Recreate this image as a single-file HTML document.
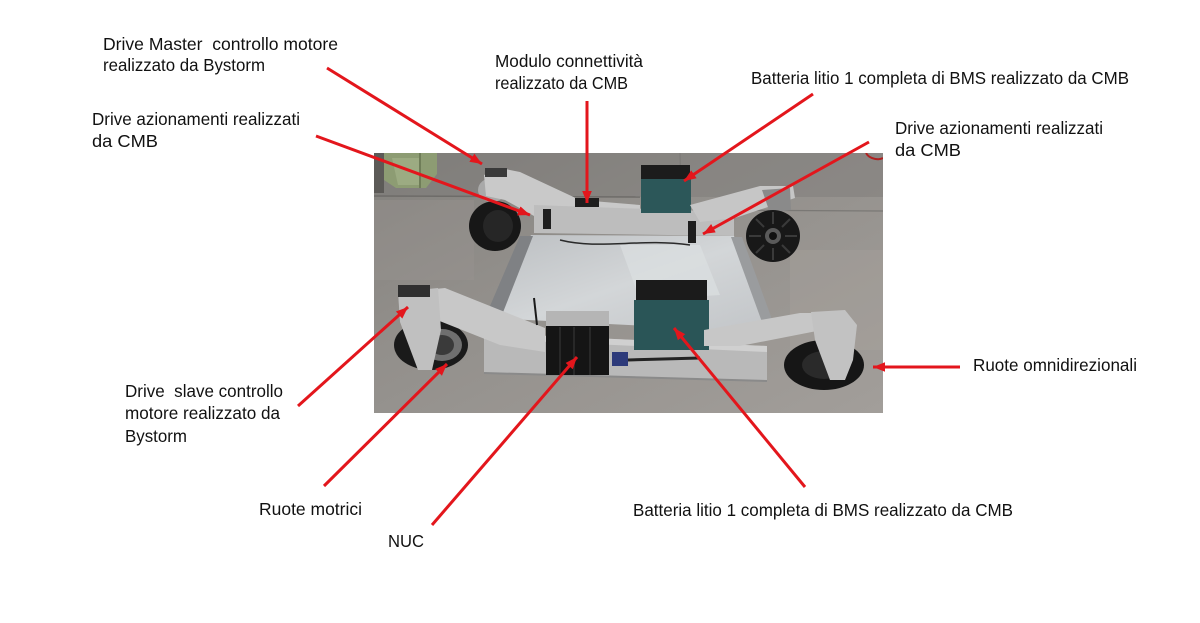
<!DOCTYPE html>
<html>
<head>
<meta charset="utf-8">
<style>
  html, body { margin:0; padding:0; background:#ffffff; }
  body { width:1200px; height:623px; overflow:hidden; }
  svg { display:block; }
  text { font-family: "Liberation Sans", "DejaVu Sans", sans-serif; font-size:17.5px; fill:#111; }
</style>
</head>
<body>
<svg width="1200" height="623" viewBox="0 0 1200 623" xmlns="http://www.w3.org/2000/svg">
  <defs>
    <clipPath id="photo"><rect x="374" y="153" width="509" height="260"/></clipPath>
    <linearGradient id="floor" x1="0" y1="0" x2="1" y2="1">
      <stop offset="0" stop-color="#82807c"/>
      <stop offset="0.35" stop-color="#918e8a"/>
      <stop offset="1" stop-color="#a29e9a"/>
    </linearGradient>
    <linearGradient id="plate" x1="0" y1="0" x2="1" y2="1">
      <stop offset="0" stop-color="#bcbfc2"/>
      <stop offset="0.5" stop-color="#d3d6d8"/>
      <stop offset="1" stop-color="#c2c5c8"/>
    </linearGradient>
    <marker id="ah" viewBox="0 0 10 10" refX="10" refY="5" markerWidth="4" markerHeight="4" orient="auto">
      <path d="M0,1 L10,5 L0,9 z" fill="#e3161c"/>
    </marker>
  </defs>

  <!-- PHOTO -->
  <g clip-path="url(#photo)">
    <rect x="374" y="153" width="509" height="260" fill="url(#floor)"/>
    <rect x="374" y="153" width="509" height="44" fill="#7c7a77" opacity="0.45"/>
    <line x1="374" y1="196" x2="640" y2="197" stroke="#6e6c69" stroke-width="1.5"/>
    <line x1="700" y1="210" x2="883" y2="211" stroke="#7a7875" stroke-width="1.2"/>
    <line x1="680" y1="153" x2="681" y2="200" stroke="#7a7875" stroke-width="1"/>
    <rect x="374" y="200" width="100" height="80" fill="#9a9692" opacity="0.35"/>
    <rect x="790" y="250" width="93" height="100" fill="#a8a49f" opacity="0.35"/>
    <rect x="374" y="153" width="10" height="40" fill="#5c5a57"/>
    <!-- green machine -->
    <polygon points="384,153 437,153 437,174 426,188 396,188 384,180" fill="#8d9c73"/>
    <polygon points="392,158 420,158 420,185 398,185" fill="#9cab82"/>
    <line x1="420" y1="153" x2="420" y2="188" stroke="#6f7d58" stroke-width="2"/>

    <!-- back left wheel -->
    <ellipse cx="495" cy="226" rx="26" ry="25" fill="#171717"/>
    <ellipse cx="498" cy="226" rx="15" ry="16" fill="#262626"/>
    <!-- back left motor & arm -->
    <ellipse cx="492" cy="190" rx="14" ry="12" fill="#a9a9a9"/>
    <polygon points="484,175 500,168 520,172 580,200 640,205 640,232 540,233 534,216 505,200 486,196" fill="#c9c9c9"/>
    <polygon points="534,205 734,212 734,236 534,233" fill="#bdbdbd"/>
    <rect x="485" y="168" width="22" height="9" fill="#3a3a3a"/>
    <rect x="575" y="198" width="24" height="9" fill="#1e1e1e"/>
    <rect x="543" y="209" width="8" height="20" fill="#1f1f1f"/>

    <!-- platform -->
    <polygon points="531,235 734,236 768,332 489,318" fill="url(#plate)"/>
    <polygon points="520,236 533,236 500,320 484,320" fill="#7f8184"/>
    <polygon points="731,237 742,237 777,333 766,333" fill="#9a9c9e"/>
    <polygon points="620,245 700,245 720,295 640,300" fill="#dcdfe1" opacity="0.7"/>
    <rect x="688" y="221" width="8" height="22" fill="#1e1e1e"/>
    <path d="M560,240 C600,250 640,238 690,245" stroke="#2a2a2a" stroke-width="1.5" fill="none"/>

    <!-- back battery -->
    <rect x="641" y="165" width="49" height="15" fill="#1c1c1c"/>
    <rect x="641" y="179" width="50" height="34" fill="#2c5759"/>

    <!-- back right arm, plate, omni wheel -->
    <polygon points="690,205 760,186 793,186 795,198 735,218 700,222" fill="#c6c6c6"/>
    <polygon points="762,190 790,188 791,210 770,213" fill="#8a8a8a"/>
    <ellipse cx="773" cy="236" rx="27" ry="26" fill="#181818"/>
    <g stroke="#3a3a3a" stroke-width="2">
      <line x1="773" y1="212" x2="773" y2="224"/>
      <line x1="773" y1="248" x2="773" y2="260"/>
      <line x1="749" y1="236" x2="761" y2="236"/>
      <line x1="785" y1="236" x2="797" y2="236"/>
      <line x1="756" y1="219" x2="764" y2="227"/>
      <line x1="782" y1="245" x2="790" y2="253"/>
      <line x1="790" y1="219" x2="782" y2="227"/>
      <line x1="764" y1="245" x2="756" y2="253"/>
    </g>
    <circle cx="773" cy="236" r="8" fill="#5a5a5a"/>
    <circle cx="773" cy="236" r="4" fill="#111"/>

    <!-- front frame bar -->
    <polygon points="484,333 767,346 767,381 484,373" fill="#b9b9b9"/>
    <polygon points="484,333 767,346 767,352 484,339" fill="#d0d0d0"/>
    <line x1="484" y1="373" x2="767" y2="381" stroke="#8a8a8a" stroke-width="2"/>
    <rect x="612" y="352" width="16" height="14" fill="#2d3a7a"/>
    <path d="M628,360 L700,358" stroke="#222" stroke-width="3"/>

    <!-- front left wheel, plate, arm -->
    <ellipse cx="431" cy="345" rx="37" ry="25" fill="#1a1a1a"/>
    <ellipse cx="442" cy="345" rx="20" ry="16" fill="#6f6f6f"/>
    <ellipse cx="442" cy="345" rx="12" ry="10" fill="#3a3a3a"/>
    <polygon points="425,290 445,288 545,328 545,352 500,345 432,318" fill="#c8c8c8"/>
    <polygon points="398,292 438,288 441,330 432,370 418,370 400,322" fill="#c0c0c0"/>
    <rect x="398" y="285" width="32" height="12" fill="#2f2f2f"/>

    <!-- NUC -->
    <rect x="546" y="311" width="63" height="16" fill="#b5b5b5"/>
    <rect x="546" y="326" width="63" height="49" fill="#151515"/>
    <g stroke="#2e2e2e" stroke-width="1.5">
      <line x1="560" y1="327" x2="560" y2="375"/>
      <line x1="574" y1="327" x2="574" y2="375"/>
      <line x1="590" y1="327" x2="590" y2="375"/>
    </g>
    <line x1="534" y1="298" x2="537" y2="325" stroke="#1a1a1a" stroke-width="2"/>

    <!-- front battery -->
    <rect x="636" y="280" width="71" height="21" fill="#1b1b1b"/>
    <rect x="634" y="300" width="75" height="50" fill="#2a5557"/>

    <!-- front right arm, wheel, plate -->
    <polygon points="704,330 800,313 822,313 822,330 740,346 704,346" fill="#c7c7c7"/>
    <ellipse cx="824" cy="365" rx="40" ry="25" fill="#161616"/>
    <ellipse cx="824" cy="365" rx="22" ry="14" fill="#2a2a2a"/>
    <polygon points="811,312 845,310 857,325 853,360 845,380 830,380 815,340" fill="#c2c2c2"/>

    <path d="M866,153 C870,160 880,160 883,158" stroke="#b02020" stroke-width="2" fill="none"/>
  </g>

  <!-- ARROWS -->
  <g stroke="#e3161c" stroke-width="3" fill="none" marker-end="url(#ah)">
    <line x1="327" y1="68" x2="482" y2="164"/>
    <line x1="316" y1="136" x2="530" y2="215"/>
    <line x1="587" y1="101" x2="587" y2="203"/>
    <line x1="813" y1="94" x2="684" y2="181"/>
    <line x1="869" y1="142" x2="703" y2="234"/>
    <line x1="298" y1="406" x2="408" y2="307"/>
    <line x1="324" y1="486" x2="447" y2="364"/>
    <line x1="432" y1="525" x2="577" y2="357"/>
    <line x1="805" y1="487" x2="674" y2="328"/>
    <line x1="960" y1="367" x2="873" y2="367"/>
  </g>

  <!-- LABELS -->
  <text x="103" y="50" textLength="235" lengthAdjust="spacingAndGlyphs">Drive Master&#160; controllo motore</text>
  <text x="103" y="71" textLength="162" lengthAdjust="spacingAndGlyphs">realizzato da Bystorm</text>
  <text x="92" y="125" textLength="208" lengthAdjust="spacingAndGlyphs">Drive azionamenti realizzati</text>
  <text x="92" y="147" textLength="66" lengthAdjust="spacingAndGlyphs">da CMB</text>
  <text x="495" y="67" textLength="148" lengthAdjust="spacingAndGlyphs">Modulo connettività</text>
  <text x="495" y="89" textLength="133" lengthAdjust="spacingAndGlyphs">realizzato da CMB</text>
  <text x="751" y="84" textLength="378" lengthAdjust="spacingAndGlyphs">Batteria litio 1 completa di BMS realizzato da CMB</text>
  <text x="895" y="134" textLength="208" lengthAdjust="spacingAndGlyphs">Drive azionamenti realizzati</text>
  <text x="895" y="156" textLength="66" lengthAdjust="spacingAndGlyphs">da CMB</text>
  <text x="973" y="371" textLength="164" lengthAdjust="spacingAndGlyphs">Ruote omnidirezionali</text>
  <text x="125" y="397" textLength="158" lengthAdjust="spacingAndGlyphs">Drive&#160; slave controllo</text>
  <text x="125" y="419" textLength="155" lengthAdjust="spacingAndGlyphs">motore realizzato da</text>
  <text x="125" y="442" textLength="62" lengthAdjust="spacingAndGlyphs">Bystorm</text>
  <text x="259" y="515" textLength="103" lengthAdjust="spacingAndGlyphs">Ruote motrici</text>
  <text x="388" y="547" textLength="36" lengthAdjust="spacingAndGlyphs">NUC</text>
  <text x="633" y="516" textLength="380" lengthAdjust="spacingAndGlyphs">Batteria litio 1 completa di BMS realizzato da CMB</text>
</svg>
</body>
</html>
